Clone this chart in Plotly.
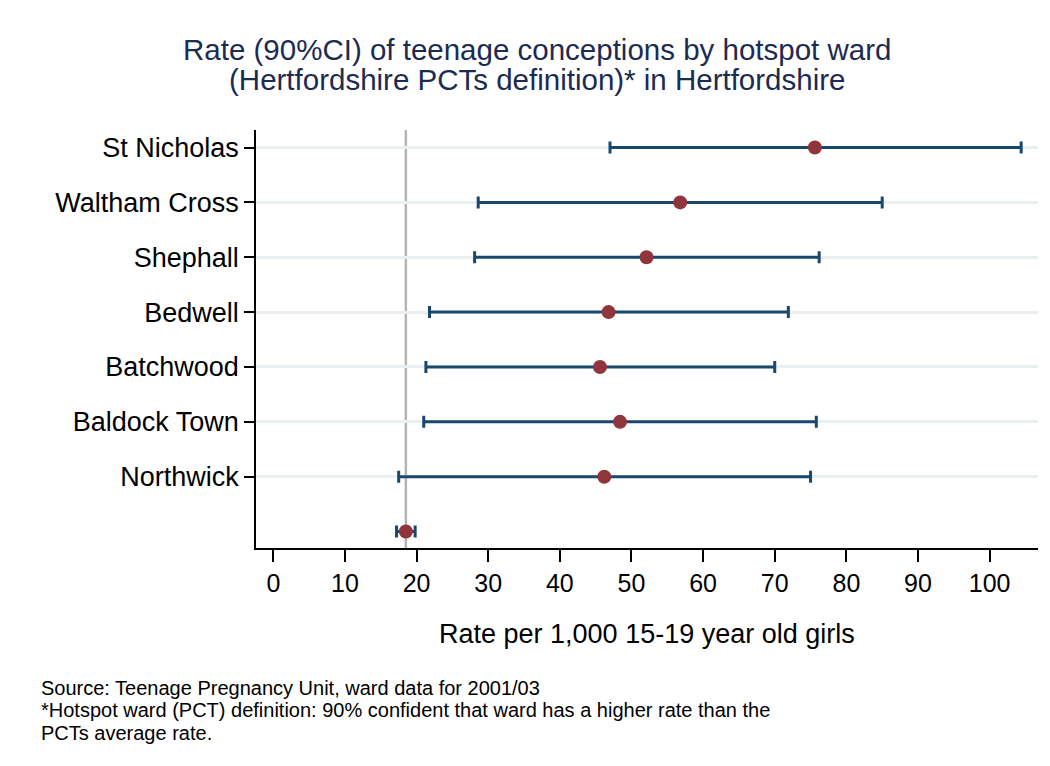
import plotly.graph_objects as go

# Hotspot wards, listed top to bottom
wards = ["St Nicholas", "Waltham Cross", "Shephall", "Bedwell",
         "Batchwood", "Baldock Town", "Northwick"]
rate = [75.6, 56.8, 52.1, 46.8, 45.6, 48.4, 46.2]
lower = [47.0, 28.6, 28.1, 21.8, 21.3, 21.0, 17.5]
upper = [104.4, 85.0, 76.2, 71.9, 70.0, 75.8, 75.0]

# PCTs average rate (unlabelled bottom row and reference line)
pct_rate = 18.5
pct_lower = 17.2
pct_upper = 19.8

x_ticks = list(range(0, 101, 10))

footnote_lines = [
    "Source: Teenage Pregnancy Unit, ward data for 2001/03",
    "*Hotspot ward (PCT) definition: 90% confident that ward has a higher rate than the",
    "PCTs average rate.",
]

NAVY = "#1a476f"
MAROON = "#90353b"
FONT = "Liberation Sans, Arial, sans-serif"

W, H = 1050, 766
L, R, T, B = 256, 12, 130, 218
PW, PH = W - L - R, H - T - B


def px_x(px):
    return (px - L) / PW


def px_y(py):
    return (H - B - py) / PH


n = len(wards)
y_pos = [n - i for i in range(n)]          # 7 .. 1
all_y = y_pos + [0]
all_rate = rate + [pct_rate]
all_lo = lower + [pct_lower]
all_hi = upper + [pct_upper]

fig = go.Figure()
fig.add_trace(go.Scatter(
    x=all_rate, y=all_y, mode="markers",
    marker=dict(size=14, color=MAROON, line=dict(width=0)),
    error_x=dict(type="data", symmetric=False,
                 array=[h - r for h, r in zip(all_hi, all_rate)],
                 arrayminus=[r - l for r, l in zip(all_rate, all_lo)],
                 color=NAVY, thickness=3, width=6),
    showlegend=False, hoverinfo="skip",
))

# reference line at the PCTs average rate
fig.add_shape(type="line", xref="x", yref="paper",
              x0=pct_rate, x1=pct_rate, y0=0, y1=1,
              line=dict(color="#b4b4b4", width=2.5), layer="between")

fig.update_xaxes(
    range=[-2.42, 106.75], tickvals=x_ticks, ticktext=[str(v) for v in x_ticks],
    showline=True, linecolor="black", linewidth=1.5,
    ticks="outside", ticklen=12, tickwidth=1.5, tickcolor="black",
    showgrid=False, zeroline=False,
    tickfont=dict(family=FONT, size=25, color="black"),
)
fig.update_yaxes(
    range=[-0.30, 7.32], tickvals=y_pos, ticktext=wards,
    showline=True, linecolor="black", linewidth=1.5,
    ticks="outside", ticklen=10, tickwidth=1.5, tickcolor="black",
    showgrid=True, gridcolor="#eaf0f2", gridwidth=3, zeroline=False,
    tickfont=dict(family=FONT, size=27, color="black"),
)

TITLE_C = "#1c2b52"
annotations = [
    dict(text="Rate (90%CI) of teenage conceptions by hotspot ward",
         x=px_x(537), y=px_y(50), size=29.5, color=TITLE_C, anchor="center"),
    dict(text="(Hertfordshire PCTs definition)* in Hertfordshire",
         x=px_x(537), y=px_y(80), size=29.5, color=TITLE_C, anchor="center"),
    dict(text="Rate per 1,000 15-19 year old girls",
         x=px_x(647), y=px_y(634), size=27, color="black", anchor="center"),
]
for a in annotations:
    fig.add_annotation(text=a["text"], x=a["x"], y=a["y"], xref="paper", yref="paper",
                       xanchor=a["anchor"], yanchor="middle", showarrow=False,
                       font=dict(family=FONT, size=a["size"], color=a["color"]))

# footnote block: compact line spacing from the base size, text drawn a bit larger
foot_text = "<br>".join(
    f'<span style="font-size:20px">{line}</span>' for line in footnote_lines
)
fig.add_annotation(text=foot_text, x=px_x(39), y=px_y(710.5), xref="paper", yref="paper",
                   xanchor="left", yanchor="middle", align="left", showarrow=False,
                   font=dict(family=FONT, size=17.25, color="black"))

fig.update_layout(
    width=W, height=H,
    margin=dict(l=L, r=R, t=T, b=B),
    paper_bgcolor="white", plot_bgcolor="white",
)

fig.write_html("out.html")
